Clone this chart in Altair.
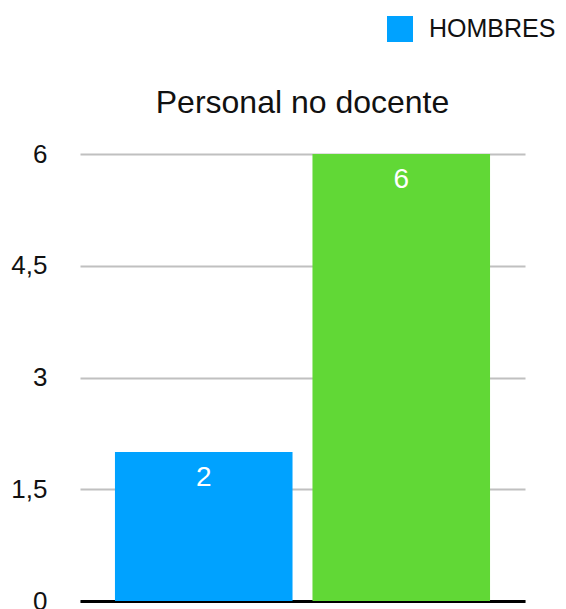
import altair as alt
import pandas as pd

categories = ["HOMBRES", "MUJERES"]
values = [2, 6]
colors = ["#00A2FF", "#61D836"]
y_ticks = [0, 1.5, 3, 4.5, 6]

df = pd.DataFrame({"grupo": categories, "valor": values})

FONT = "Liberation Sans"

x_enc = alt.X("grupo:N", sort=categories,
              scale=alt.Scale(paddingInner=0.101, paddingOuter=0.177),
              axis=alt.Axis(title=None, labels=False, ticks=False,
                            domainColor="black", domainWidth=3, grid=False))
y_enc = alt.Y("valor:Q", scale=alt.Scale(domain=[0, 6], nice=False),
              axis=alt.Axis(title=None, values=y_ticks, ticks=False, domain=False,
                            labelExpr="replace(format(datum.value, ''), '.', ',')",
                            labelFontSize=26, labelFont=FONT, labelColor="#111111",
                            labelPadding=33, gridColor="#c0c0c0", gridWidth=2))

bars = alt.Chart(df).mark_bar().encode(
    x=x_enc,
    y=y_enc,
    color=alt.Color("grupo:N",
                    scale=alt.Scale(domain=categories, range=colors),
                    legend=alt.Legend(title=None, values=["HOMBRES"], orient="none",
                                      legendX=307, legendY=-138,
                                      symbolType="square", symbolSize=676,
                                      symbolStrokeWidth=0, symbolOpacity=1,
                                      labelFontSize=25, labelFont=FONT,
                                      labelColor="#111111", labelOffset=16)),
)

labels = alt.Chart(df).mark_text(
    baseline="top", dy=12, color="white", fontSize=28, font=FONT
).encode(
    x=alt.X("grupo:N", sort=categories),
    y=alt.Y("valor:Q"),
    text=alt.Text("valor:Q"),
)

chart = alt.layer(bars, labels).properties(
    width=445,
    height=447,
    title=alt.TitleParams("Personal no docente", fontSize=32, fontWeight="normal",
                          font=FONT, color="#111111", anchor="middle", offset=0,
                          baseline="alphabetic", dy=129),
    autosize=alt.AutoSizeParams(type="none"),
    padding={"left": 72, "top": 146, "right": 33, "bottom": 8},
).configure_view(stroke=None)

chart.save("out.html", embed_options={"renderer": "svg", "actions": False})
